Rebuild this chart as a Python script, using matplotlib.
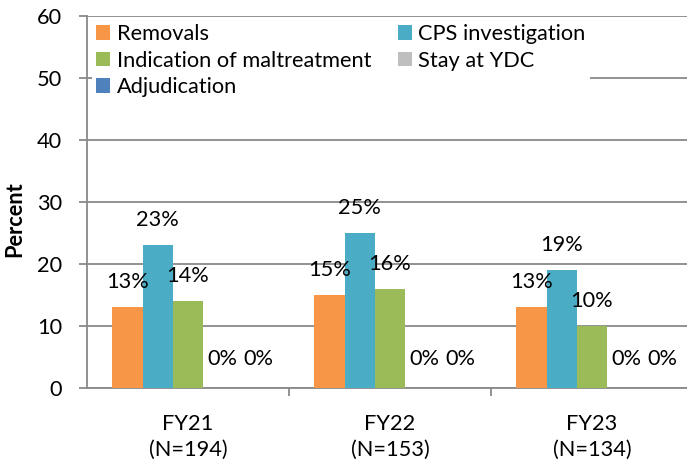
import numpy as np
import matplotlib
matplotlib.use('Agg')
from matplotlib import pyplot as plt

plt.rcParams['font.family'] = ['Lato', 'DejaVu Sans']

categories = ['FY21\n(N=194)', 'FY22\n(N=153)', 'FY23\n(N=134)']
series = ['Removals', 'CPS investigation', 'Indication of maltreatment',
          'Stay at YDC', 'Adjudication']
removals = [13, 15, 13]
cps = [23, 25, 19]
maltreatment = [14, 16, 10]
stay_ydc = [0, 0, 0]
adjudication = [0, 0, 0]
colors = ['#F79646', '#4BACC6', '#9BBB59', '#BFBFBF', '#4F81BD']

values = [removals, cps, maltreatment, stay_ydc, adjudication]
# small sideways nudge of the zero labels, like Excel does
label_dx = [0, 0, 0, 3, 7]
FS = 15.7

fig = plt.figure(figsize=(6.87, 4.62), dpi=100)
ax = fig.add_axes([87 / 687, 74 / 462, 606 / 687, 372 / 462])

x = np.arange(len(categories))
w = 0.15
handles = []
for i, (name, vals) in enumerate(zip(series, values)):
    pos = x + (i - 2) * w
    b = ax.bar(pos, vals, w, color=colors[i], label=name, zorder=3)
    handles.append(b)
    for px, v in zip(pos, vals):
        dy = 18 if v > 0 else 21
        ax.annotate(f'{v}%', (px, v), xytext=(label_dx[i], dy),
                    textcoords='offset points', ha='center', va='center',
                    fontsize=FS, zorder=4)

ax.set_xlim(-0.5, 2.5)
ax.set_ylim(0, 60)
ax.set_yticks(range(0, 61, 10))
ax.yaxis.grid(True, color='#898989', lw=1.3, zorder=0)
ax.set_axisbelow(True)

ax.set_xticks(x)
ax.set_xticklabels(categories, fontsize=FS, linespacing=1.4)
ax.tick_params(axis='x', length=0, pad=18.5)
ax.set_xticks([0.5, 1.5], minor=True)
ax.tick_params(axis='x', which='minor', length=6, width=1.3, color='#898989')
ax.tick_params(axis='y', length=6, width=1.3, color='#898989', pad=12, labelsize=FS)

for s in ['top', 'right']:
    ax.spines[s].set_visible(False)
for s in ['left', 'bottom']:
    ax.spines[s].set_color('#898989')
    ax.spines[s].set_linewidth(1.3)

ax.set_ylabel('Percent', fontsize=FS, fontweight='bold', ha='center', va='center')
ax.yaxis.set_label_coords(-72 / 606, (388 - 219) / 372)

# Excel fills the legend row by row
order = [0, 2, 4, 1, 3]
ax.legend([handles[k] for k in order], [series[k] for k in order],
          ncol=2, loc='upper left', bbox_to_anchor=(0.008, 0.99), frameon=True,
          edgecolor='none', facecolor='white', framealpha=1,
          fontsize=FS, handlelength=0.65, handleheight=0.65, handletextpad=0.3,
          columnspacing=1.2, labelspacing=0.3, borderaxespad=0.0,
          borderpad=0.2)

fig.savefig('out.png', dpi=100)
